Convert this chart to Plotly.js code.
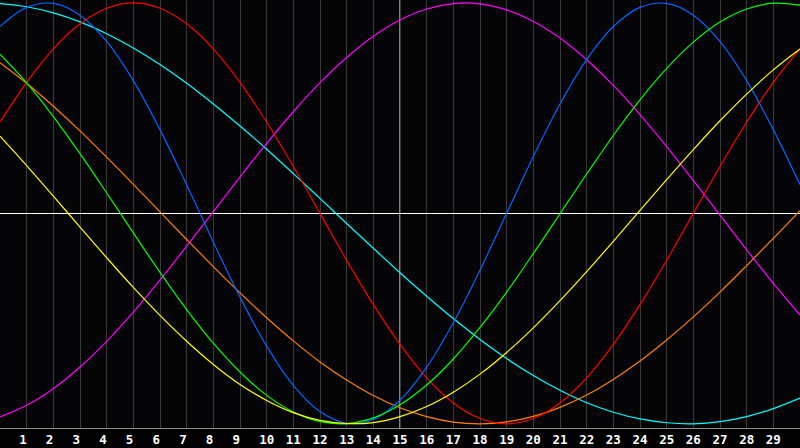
<!DOCTYPE html>
<html>
<head>
<meta charset="utf-8">
<script src="https://cdn.plot.ly/plotly-3.0.1.min.js"></script>
<style>
  html, body { margin: 0; padding: 0; background: #000; }
  #chart { width: 800px; height: 448px; }
</style>
</head>
<body>
<div id="chart"></div>
<script>
// Days 0..30 (x positions of the sampled values)
const days = [0,1,2,3,4,5,6,7,8,9,10,11,12,13,14,15,16,17,18,19,20,21,22,23,24,25,26,27,28,29,30];

// Tick labels shown under the chart
const tickDays = [1,2,3,4,5,6,7,8,9,10,11,12,13,14,15,16,17,18,19,20,21,22,23,24,25,26,27,28,29];

// Marked day (vertical white line)
const markedDay = 15;

// Series values (percent, -100..100)
const redVals = [43.4,62.3,78.2,90.1,97.5,100,97.5,90.1,78.2,62.3,43.4,22.3,0,-22.3,-43.4,-62.3,-78.2,-90.1,-97.5,-100,-97.5,-90.1,-78.2,-62.3,-43.4,-22.3,0,22.3,43.4,62.3,78.2];
const blueVals = [88.8,97.9,99.8,94.2,81.7,63.1,39.8,13.6,-13.6,-39.8,-63.1,-81.7,-94.2,-99.8,-97.9,-88.8,-73.1,-52.0,-27.0,0,27.0,52.0,73.1,88.8,97.9,99.8,94.2,81.7,63.1,39.8,13.6];
const cyanVals = [99.7,98.2,95.3,91.0,85.4,78.6,70.7,61.8,52.0,41.5,30.5,18.9,7.1,-4.8,-16.6,-28.2,-39.4,-50.0,-59.9,-69.0,-77.1,-84.1,-90.0,-94.5,-97.7,-99.5,-100.0,-99.0,-96.6,-92.8,-87.8];
const magentaVals = [-96.7,-91.2,-83.3,-73.0,-60.8,-46.9,-31.7,-15.6,0.8,17.3,33.3,48.3,62.1,74.1,84.2,91.9,97.1,99.7,99.6,96.7,91.2,83.3,73.0,60.8,46.9,31.7,15.6,-0.8,-17.3,-33.3,-48.3];
const greenVals = [75.7,62.0,46.0,28.4,9.7,-9.3,-28.0,-45.7,-61.7,-75.4,-86.5,-94.4,-99.0,-99.9,-97.2,-91.0,-81.6,-69.2,-54.2,-37.4,-19.1,-0.2,18.7,37.0,53.9,68.9,81.4,90.9,97.1,99.9,99.0];
const yellowVals = [36.7,22.7,8.2,-6.5,-21.1,-35.2,-48.5,-60.8,-71.8,-81.3,-88.9,-94.7,-98.4,-99.9,-99.4,-96.6,-91.8,-85.0,-76.4,-66.1,-54.4,-41.5,-27.7,-13.3,1.4,16.0,30.3,44.0,56.7,68.2,78.1];
const orangeVals = [71.6,61.8,50.9,39.2,26.7,13.8,0.7,-12.4,-25.3,-37.8,-49.6,-60.6,-70.6,-79.2,-86.6,-92.4,-96.6,-99.2,-100.0,-99.1,-96.5,-92.2,-86.3,-78.9,-70.2,-60.2,-49.2,-37.4,-24.8,-11.9,1.3];

const seriesList = [
  { name: 'cyan',    vals: cyanVals,    color: '#00ffff' },
  { name: 'magenta', vals: magentaVals, color: '#ff00ff' },
  { name: 'orange',  vals: orangeVals,  color: '#ff8000' },
  { name: 'red',     vals: redVals,     color: '#ff0000' },
  { name: 'blue',    vals: blueVals,    color: '#0a64ff' },
  { name: 'green',   vals: greenVals,   color: '#00ff00' },
  { name: 'yellow',  vals: yellowVals,  color: '#ffff00' }
];

const traces = seriesList.map(s => ({
  x: days,
  y: s.vals,
  type: 'scatter',
  mode: 'lines',
  name: s.name,
  line: { color: s.color, width: 1.2, shape: 'spline', smoothing: 1 },
  hoverinfo: 'skip'
}));

const tickText = tickDays.map(d => (d < 10 ? String(d) + '\u00a0' : String(d)));

const layout = {
  width: 800,
  height: 448,
  margin: { l: 0, r: 0, t: 0, b: 20, pad: 0 },
  paper_bgcolor: '#000000',
  plot_bgcolor: '#050508',
  showlegend: false,
  xaxis: {
    range: [days[0], days[days.length - 1]],
    tickmode: 'array',
    tickvals: tickDays,
    ticktext: tickText,
    ticks: '',
    showgrid: true,
    gridcolor: '#3a3a3a',
    gridwidth: 1,
    zeroline: false,
    showline: true,
    linecolor: '#8c8c8c',
    linewidth: 1,
    mirror: true,
    tickfont: { family: 'DejaVu Sans Mono', size: 12.5, color: '#ffffff', weight: 'bold' },
    fixedrange: true
  },
  yaxis: {
    range: [-102.0, 101.4],
    showticklabels: false,
    ticks: '',
    showgrid: false,
    zeroline: true,
    zerolinecolor: '#ffffff',
    zerolinewidth: 1,
    showline: true,
    linecolor: '#8c8c8c',
    linewidth: 1,
    mirror: true,
    fixedrange: true
  },
  shapes: [{
    type: 'line',
    xref: 'x', yref: 'paper',
    x0: markedDay, x1: markedDay, y0: 0, y1: 1,
    line: { color: '#ffffff', width: 1 },
    layer: 'below'
  }]
};

Plotly.newPlot('chart', traces, layout, { staticPlot: true, displayModeBar: false });
</script>
</body>
</html>
